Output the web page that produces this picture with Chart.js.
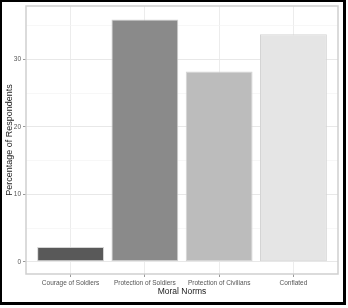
<!DOCTYPE html>
<html>
<head>
<meta charset="utf-8">
<script src="https://cdn.jsdelivr.net/npm/chart.js@4/dist/chart.umd.min.js"></script>
<style>
  html, body { margin: 0; padding: 0; background: #fff; }
  #wrap { position: relative; width: 348px; height: 308px; }
  #frame {
    position: absolute; left: 0; top: 0; width: 346px; height: 305px;
    box-sizing: border-box; border: 2px solid #000;
    border-right-width: 3px; border-bottom-width: 3px; pointer-events: none;
  }
</style>
</head>
<body>
<div id="wrap">
  <canvas id="chart" width="348" height="308"></canvas>
  <div id="frame"></div>
</div>
<script>
// data
const categories = ['Courage of Soldiers', 'Protection of Soldiers', 'Protection of Civilians', 'Conflated'];
const percentages = [2.2, 35.9, 28.2, 33.7];
const yTickValues = [0, 10, 20, 30];
const yMinorValues = [5, 15, 25, 35];

const fills = ['#595959', '#8a8a8a', '#bcbcbc', '#e5e5e5'];
const FONT = 'Liberation Sans, Arial, sans-serif';

// ggplot style panel border round the plot area
const panelBorder = {
    id: 'panelBorder',
    afterDraw(chart) {
        const a = chart.chartArea;
        const ctx = chart.ctx;
        ctx.save();
        ctx.strokeStyle = '#cfcfcf';
        ctx.lineWidth = 1.5;
        ctx.strokeRect(a.left, a.top, a.right - a.left, a.bottom - a.top);
        ctx.restore();
    }
};

const isMajor = v => yTickValues.includes(v);

new Chart(document.getElementById('chart'), {
    type: 'bar',
    data: {
        datasets: [{
            data: percentages.map((v, i) => ({ x: i + 1, y: v })),
            backgroundColor: fills,
            borderColor: '#d4d4d4',
            borderWidth: 1,
            borderSkipped: false,
            barPercentage: 0.9,
            categoryPercentage: 1
        }]
    },
    options: {
        responsive: false,
        animation: false,
        layout: { padding: { top: 6, right: 10, left: 0, bottom: 0 } },
        plugins: { legend: { display: false }, tooltip: { enabled: false } },
        scales: {
            x: {
                type: 'linear',
                min: 0.4,
                max: 4.6,
                offset: false,
                afterBuildTicks: s => { s.ticks = categories.map((c, i) => ({ value: i + 1 })); },
                afterFit: s => { s.height = 34; },
                ticks: {
                    callback: v => categories[v - 1] || '',
                    font: { family: FONT, size: 6.5 },
                    color: '#555',
                    padding: 2,
                    maxRotation: 0,
                    autoSkip: false
                },
                grid: { offset: false, color: '#ececec', lineWidth: 1, tickLength: 3, tickColor: '#999' },
                border: { display: false },
                title: {
                    display: true,
                    text: 'Moral Norms',
                    font: { family: FONT, size: 8.5 },
                    color: '#222',
                    padding: 11
                }
            },
            y: {
                min: -1.8,
                max: 37.9,
                afterBuildTicks: s => {
                    s.ticks = yTickValues.concat(yMinorValues).sort((a, b) => a - b).map(v => ({ value: v }));
                },
                afterFit: s => { s.width = 26; },
                ticks: {
                    callback: v => isMajor(v) ? String(v) : '',
                    font: { family: FONT, size: 6.5 },
                    color: '#555',
                    padding: 2
                },
                grid: {
                    color: c => isMajor(c.tick.value) ? '#e8e8e8' : '#f3f3f3',
                    lineWidth: c => isMajor(c.tick.value) ? 1 : 0.7,
                    tickLength: 3,
                    tickColor: c => isMajor(c.tick.value) ? '#999' : 'rgba(0,0,0,0)'
                },
                border: { display: false },
                title: {
                    display: true,
                    text: 'Percentage of Respondents',
                    font: { family: FONT, size: 9 },
                    color: '#222',
                    padding: 4.5
                }
            }
        }
    },
    plugins: [panelBorder]
});
</script>
</body>
</html>
